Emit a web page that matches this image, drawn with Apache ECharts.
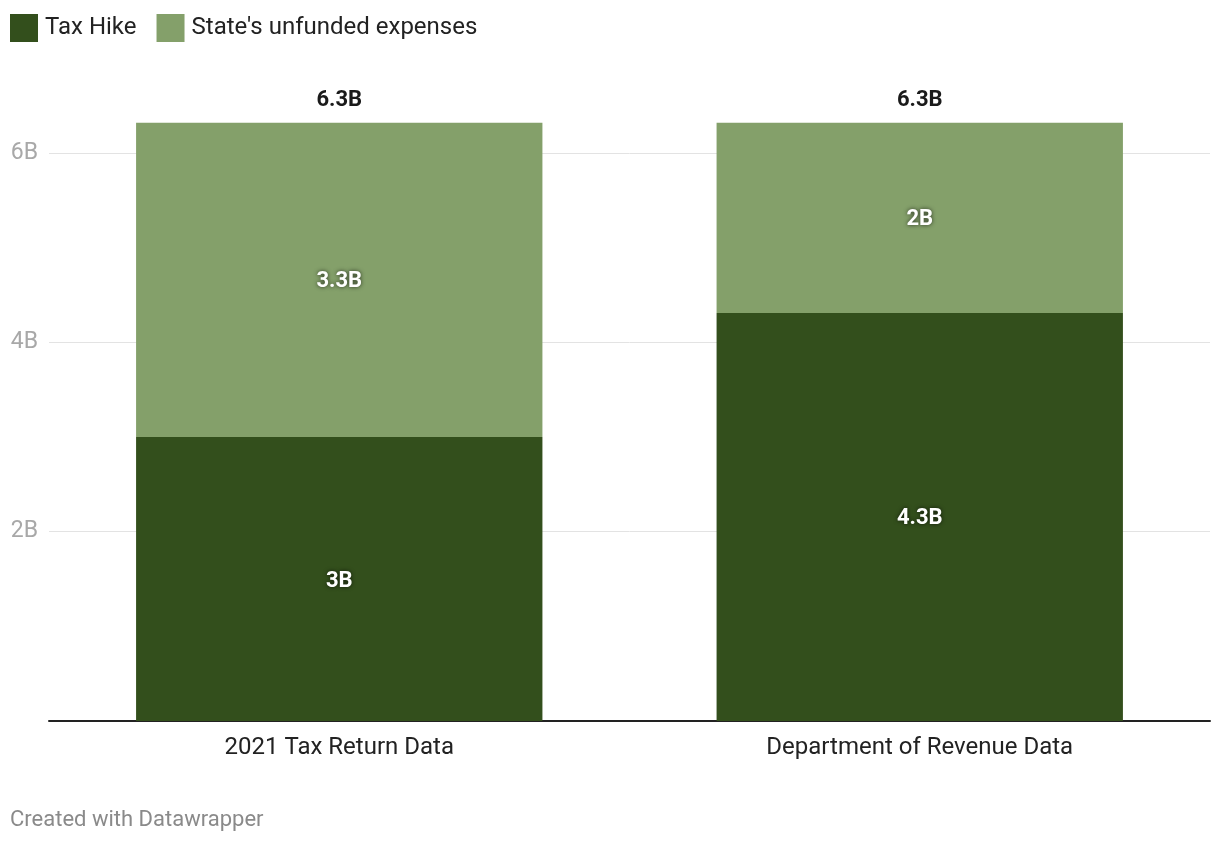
<!DOCTYPE html>
<html><head><meta charset="utf-8">
<script src="https://cdn.jsdelivr.net/npm/echarts@6/dist/echarts.min.js"></script>
<style>html,body{margin:0;padding:0;background:#fff;}#c{width:1220px;height:844px;}</style>
</head><body><div id="c"></div>
<script>
const categories = ["2021 Tax Return Data", "Department of Revenue Data"];
const taxHike = [3.0, 4.31];
const unfunded = [3.32, 2.01];
const seriesNames = ["Tax Hike", "State's unfunded expenses"];
const yTicks = [0, 2, 4, 6];

const totals = taxHike.map((v, i) => v + unfunded[i]);
const fmt = v => { let r = Math.round(v * 10) / 10; return (r % 1 === 0 ? r.toFixed(0) : r.toFixed(1)) + 'B'; };
const F = 'Roboto, "Noto Sans", sans-serif';
const inLabel = {
  show: true, position: 'inside', offset: [0, 2], color: '#fff', fontFamily: F, fontSize: 22, fontWeight: 'bold',
  textShadowColor: 'rgba(0,0,0,0.7)', textShadowBlur: 4,
  formatter: p => fmt(p.value)
};
const chart = echarts.init(document.getElementById('c'), null, {renderer: 'canvas'});
chart.setOption({
  animation: false,
  textStyle: {fontFamily: F},
  legend: {
    data: seriesNames, left: 5, top: 9, itemWidth: 28, itemHeight: 28, itemGap: 20,
    icon: 'rect', textStyle: {fontSize: 24, color: '#222', fontFamily: F, padding: [0, 0, 0, 2]}
  },
  grid: {left: 49, right: 10, top: 153, bottom: 123},
  xAxis: {
    type: 'category', data: categories,
    axisLine: {lineStyle: {color: '#222', width: 2}},
    axisTick: {show: false},
    axisLabel: {fontSize: 24, color: '#222', margin: 15, fontFamily: F}
  },
  yAxis: {
    type: 'value', min: 0, max: 6, interval: 2,
    axisLine: {show: false}, axisTick: {show: false},
    splitLine: {lineStyle: {color: '#e3e3e3', width: 1}},
    axisLabel: {fontSize: 23, color: '#a8a8a8', margin: 11, fontFamily: F, padding: [8, 0, 0, 0],
      formatter: v => (v === 0 ? '' : v + 'B')}
  },
  series: [
    {name: seriesNames[0], type: 'bar', stack: 's', data: taxHike, barWidth: '70%', clip: false,
      itemStyle: {color: '#334f1c'}, label: inLabel},
    {name: seriesNames[1], type: 'bar', stack: 's', data: unfunded, barWidth: '70%', clip: false,
      itemStyle: {color: '#84a06a'}, label: inLabel},
    {name: 'total', type: 'scatter', data: totals, symbolSize: 0, clip: false, silent: true,
      itemStyle: {opacity: 1},
      label: {show: true, position: 'top', distance: 11, color: '#1a1a1a', fontSize: 22, fontWeight: 'bold',
        fontFamily: F, formatter: p => fmt(p.value)}}
  ],
  graphic: [{type: 'text', left: 10, top: 809, style: {text: 'Created with Datawrapper', fill: '#8a8a8a', fontSize: 22, fontFamily: F}}]
});
</script></body></html>
